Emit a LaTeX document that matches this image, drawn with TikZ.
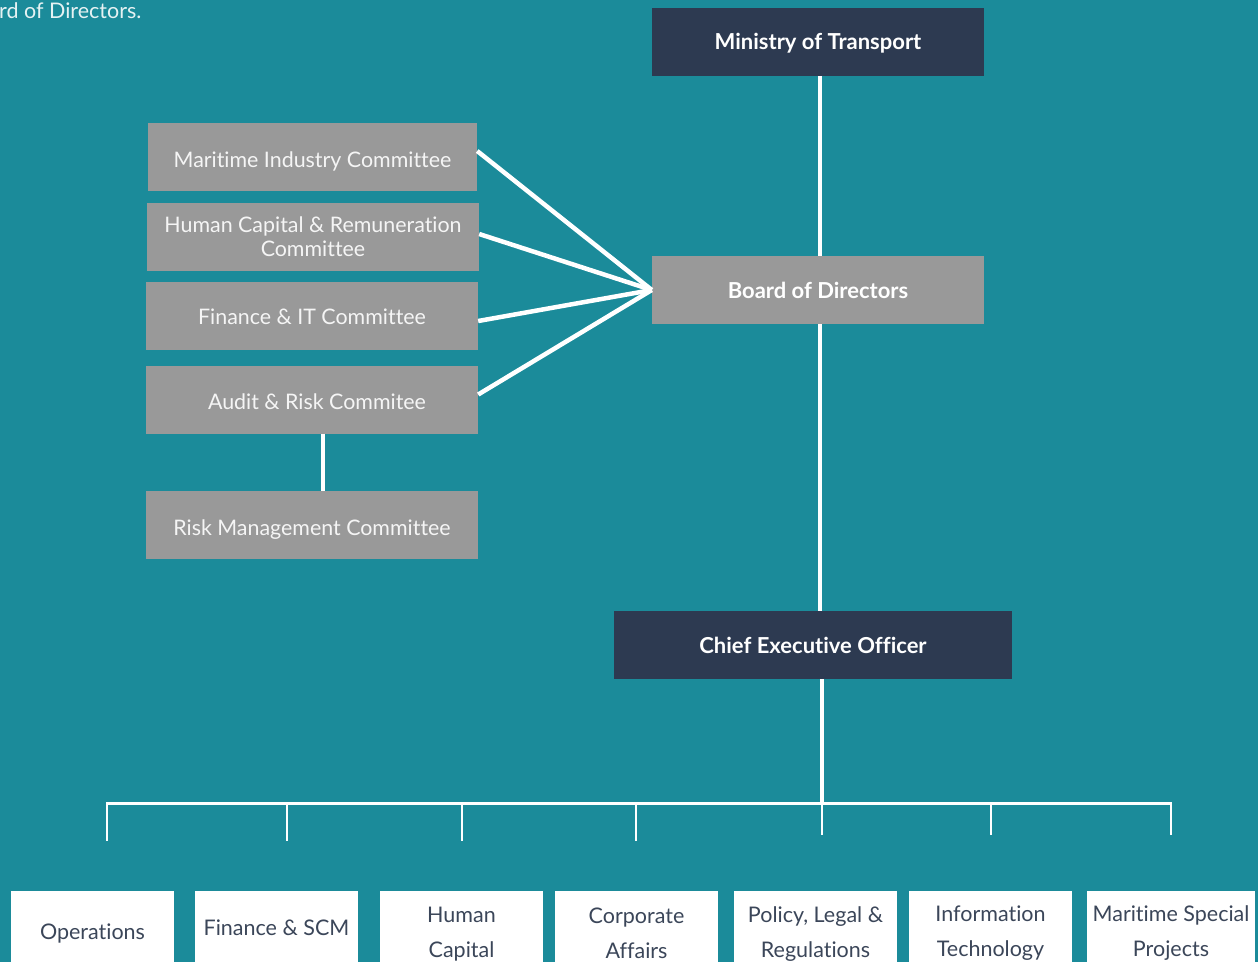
\documentclass[tikz,border=0pt]{standalone}
\usepackage{fontspec}
\setmainfont[Ligatures=NoCommon]{Lato}
\usetikzlibrary{calc}
\definecolor{bgteal}{HTML}{1B8B9A}
\definecolor{boxnavy}{HTML}{2D3A51}
\definecolor{boxgray}{HTML}{999999}
\definecolor{deptext}{HTML}{3B4659}
\definecolor{lighttext}{HTML}{E6F2F3}
\begin{document}
\begin{tikzpicture}[x=1pt,y=-1pt,
  exec/.style={fill=boxnavy, text=white, inner sep=0pt, minimum height=68pt,
    font=\fontsize{22}{26}\selectfont\bfseries},
  board/.style={exec, fill=boxgray},
  comm/.style={fill=boxgray, text=white!96!black, inner sep=0pt, minimum height=68pt,
    align=center, font=\fontsize{21.4}{24}\selectfont},
  deptbox/.style={fill=white, inner sep=0pt, minimum width=163pt,
    minimum height=100pt, anchor=north},
  depttext/.style={text=deptext, inner sep=0pt, align=center,
    font=\fontsize{21.5}{35}\selectfont},
  link/.style={draw=white, line width=4.5pt},
  bar/.style={draw=white, line width=3pt},
  tick/.style={draw=white, line width=2.5pt}]
\useasboundingbox (0,0) rectangle (1258,962);
\clip (0,0) rectangle (1258,962);
\fill[bgteal] (0,0) rectangle (1258,962);

% caption fragment in the corner
\node[anchor=base west, inner sep=0pt, text=lighttext,
  font=\fontsize{21.5}{24}\selectfont] (cap) at (-1,18) {rd of Directors.};

% governance chain
\node[exec, minimum width=332pt, text height=15pt, text depth=0pt] (mot) at (818,42) {Ministry of Transport};
\node[board, minimum width=332pt] (bod) at (818,290) {Board of Directors};
\node[exec, minimum width=398pt] (ceo) at (813,645) {Chief Executive Officer};

% board committees
\node[comm, minimum width=329pt, text height=21pt, text depth=0pt] (mic) at (312.5,157) {Maritime Industry Committee};
\node[comm, minimum width=332pt] (hcr) at (313,237) {Human Capital \& Remuneration\\Committee};
\node[comm, minimum width=332pt, text height=17.5pt, text depth=0pt] (fit) at (312,316) {Finance \& IT Committee};
\node[comm, minimum width=332pt, text height=19.5pt, text depth=0pt] (arc) at (312,399.5) {\hspace*{10pt}Audit \& Risk Commitee};
\node[comm, minimum width=332pt, text height=21pt, text depth=0pt] (rmc) at (312,525) {Risk Management Committee};

% departments: boxes hang from a common top edge
\node[deptbox] (ops) at (92.5,891) {};
\node[deptbox] (fin) at (276.5,891) {};
\node[deptbox] (hum) at (461.5,891) {};
\node[deptbox] (cor) at (636.5,891) {};
\node[deptbox] (pol) at (815.5,891) {};
\node[deptbox] (inf) at (990.5,891) {};
\node[deptbox, minimum width=168pt] (msp) at (1171,891) {};
\node[depttext] (opsT) at ($(ops.north)+(0,42)$) {Operations};
\node[depttext] (finT) at ($(fin.north)+(0,37)$) {Finance \& SCM};
\node[depttext] (humT) at ($(hum.north)+(0,43)$) {Human\\Capital};
\node[depttext] (corT) at ($(cor.north)+(0,42)$) {Corporate\\Affairs};
\node[depttext] (polT) at ($(pol.north)+(0,43.5)$) {Policy, Legal \&\\Regulations};
\node[depttext] (infT) at ($(inf.north)+(0,42.5)$) {Information\\Technology};
\node[depttext] (mspT) at ($(msp.north)+(0,42)$) {Maritime Special\\Projects};

% vertical chain
\draw[link] ([xshift=2pt]mot.south) -- ([xshift=2pt]bod.north);
\draw[link] ([xshift=2pt]bod.south) -- ([xshift=2pt]bod.south |- ceo.north);

% committees to board
\draw[link] ([yshift=6pt]mic.east) -- (bod.west);
\draw[link] ([yshift=3pt]hcr.east) -- (bod.west);
\draw[link] ([yshift=-5pt]fit.east) -- (bod.west);
\draw[link] ([yshift=5pt]arc.east) -- (bod.west);
\draw[link] ([xshift=11pt]arc.south) -- ([xshift=11pt]rmc.north);

% CEO to department bar
\coordinate (hub) at (822,803);
\coordinate (barL) at (107,803);
\coordinate (barR) at (1171,803);
\draw[link, line width=4pt] ([xshift=9pt]ceo.south) -- (hub);
\draw[bar] ([xshift=-1.25pt]barL) -- ([xshift=1.25pt]barR);
\foreach \x in {107,287,462,636} {
  \draw[tick] (\x,803) -- (\x,841);
}
\foreach \x in {822,991,1171} {
  \draw[tick] (\x,803) -- (\x,835);
}
\end{tikzpicture}
\end{document}
